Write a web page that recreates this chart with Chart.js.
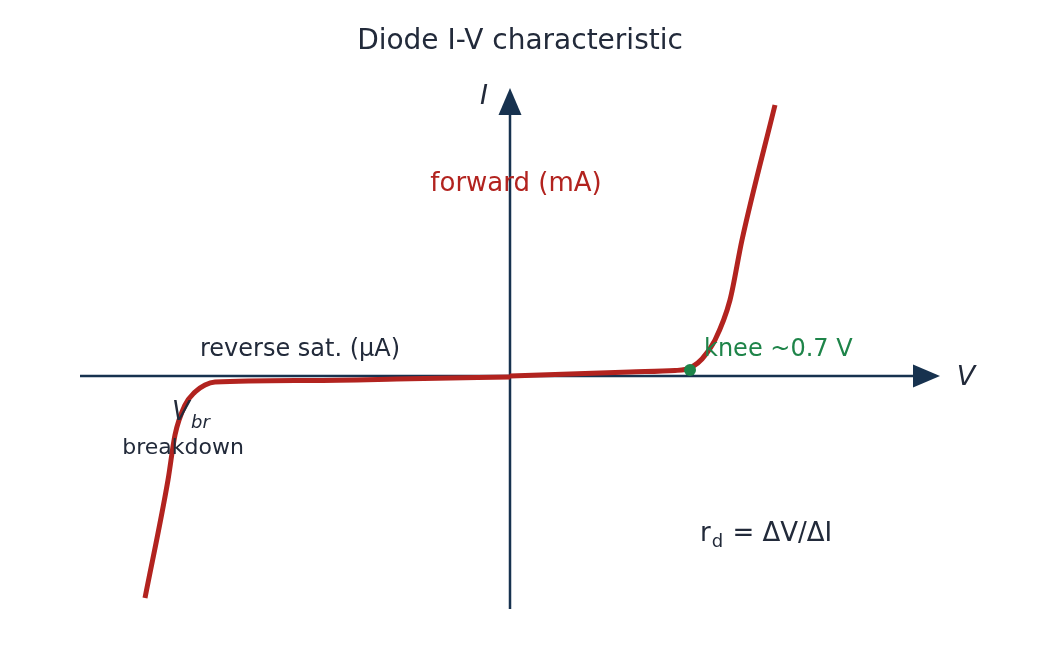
<!DOCTYPE html>
<html>
<head>
<meta charset="utf-8">
<script src="https://cdn.jsdelivr.net/npm/chart.js@4"></script>
<style>
  body { margin: 0; background: #fff; }
  canvas { display: block; }
</style>
</head>
<body>
<canvas id="myChart" width="1040" height="660"></canvas>
<script>
// schematic units: origin where the axes cross
const revV = [-365, -342, -335, -325, -315, -305, -295, -200, -100, 0];
const revI = [-222, -104, -59, -29, -16, -9, -6, -4.5, -2.8, -1];
const fwdV = [0, 60, 120, 165, 175, 182, 192, 205, 220, 232, 265];
const fwdI = [0, 2, 4, 5.5, 6.5, 9, 17, 36, 76, 136, 271];
const kneeV = [180];
const kneeI = [6];

const dark = '#222a3a';
const axisColor = '#17324f';
const red = '#b2231f';
const green = '#1e8449';

function pts(xs, ys) {
    return xs.map((x, i) => ({x: x, y: ys[i]}));
}

const annotate = {
    id: 'annotate',
    beforeDatasetsDraw(chart) {
        const ctx = chart.ctx;
        const sx = chart.scales.x, sy = chart.scales.y;
        const ox = sx.getPixelForValue(0), oy = sy.getPixelForValue(0);
        ctx.save();
        ctx.strokeStyle = axisColor;
        ctx.fillStyle = axisColor;
        ctx.lineWidth = 2.5;
        // V axis
        ctx.beginPath();
        ctx.moveTo(sx.getPixelForValue(-430), oy);
        ctx.lineTo(sx.getPixelForValue(410), oy);
        ctx.stroke();
        let tip = sx.getPixelForValue(430);
        ctx.beginPath();
        ctx.moveTo(tip, oy);
        ctx.lineTo(tip - 27, oy - 11.5);
        ctx.lineTo(tip - 27, oy + 11.5);
        ctx.closePath();
        ctx.fill();
        // I axis
        ctx.beginPath();
        ctx.moveTo(ox, sy.getPixelForValue(-233));
        ctx.lineTo(ox, sy.getPixelForValue(268));
        ctx.stroke();
        tip = sy.getPixelForValue(288);
        ctx.beginPath();
        ctx.moveTo(ox, tip);
        ctx.lineTo(ox - 11.5, tip + 27);
        ctx.lineTo(ox + 11.5, tip + 27);
        ctx.closePath();
        ctx.fill();
        ctx.restore();
    },
    afterDraw(chart) {
        const ctx = chart.ctx;
        const sx = chart.scales.x, sy = chart.scales.y;
        const px = v => sx.getPixelForValue(v);
        const py = v => sy.getPixelForValue(v) + 2;
        ctx.save();
        ctx.textBaseline = 'middle';
        const font = (s, it) => (it ? 'italic ' : '') + s + 'px "DejaVu Sans"';

        ctx.fillStyle = dark;
        ctx.textAlign = 'center';
        ctx.font = font(28);
        ctx.fillText('Diode I-V characteristic', 520, 42);

        ctx.font = font(27, true);
        ctx.fillText('I', px(-26), py(281));
        ctx.fillText('V', px(456), py(0));

        ctx.fillStyle = red;
        ctx.font = font(26);
        ctx.fillText('forward (mA)', px(6), py(194));

        ctx.fillStyle = dark;
        ctx.font = font(24);
        ctx.fillText('reverse sat. (µA)', px(-210), py(28));

        ctx.fillStyle = green;
        ctx.textAlign = 'left';
        ctx.fillText('knee ~0.7 V', px(194), py(28));

        ctx.fillStyle = dark;
        ctx.font = font(26, true);
        ctx.fillText('V', px(-338), py(-35));
        ctx.font = font(18, true);
        ctx.fillText('br', px(-319), py(-45));
        ctx.textAlign = 'center';
        ctx.font = font(22);
        ctx.fillText('breakdown', px(-327), py(-70));

        ctx.textAlign = 'left';
        ctx.font = font(26);
        ctx.fillText('r', px(190), py(-156));
        const rw = ctx.measureText('r').width;
        ctx.font = font(18);
        ctx.fillText('d', px(190) + rw + 1, py(-164));
        const dw = ctx.measureText('d').width;
        ctx.font = font(26);
        ctx.fillText(' = ΔV/ΔI', px(190) + rw + dw + 2, py(-156));
        ctx.restore();
    }
};

const config = {
    type: 'line',
    data: {
        datasets: [{
            data: pts(kneeV, kneeI),
            showLine: false,
            pointRadius: 6,
            pointBackgroundColor: green,
            pointBorderWidth: 0,
            order: 0
        }, {
            data: pts(revV, revI),
            borderColor: red,
            borderWidth: 5,
            pointRadius: 0,
            cubicInterpolationMode: 'monotone',
            borderCapStyle: 'butt',
            order: 1
        }, {
            data: pts(fwdV, fwdI),
            borderColor: red,
            borderWidth: 5,
            pointRadius: 0,
            cubicInterpolationMode: 'monotone',
            borderCapStyle: 'butt',
            order: 1
        }]
    },
    options: {
        responsive: false,
        animation: false,
        events: [],
        layout: { padding: 0, autoPadding: false },
        scales: {
            x: { type: 'linear', display: false, min: -510, max: 530 },
            y: { type: 'linear', display: false, min: -284, max: 376 }
        },
        plugins: {
            legend: { display: false },
            tooltip: { enabled: false }
        }
    },
    plugins: [annotate]
};

const myChart = new Chart(document.getElementById('myChart'), config);
</script>
</body>
</html>
